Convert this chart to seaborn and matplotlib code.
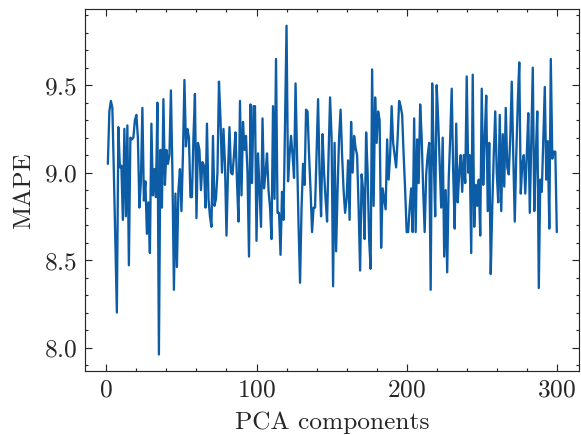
import numpy as np
import pandas as pd
import matplotlib
matplotlib.use("Agg")
import matplotlib.pyplot as plt
from matplotlib.ticker import AutoMinorLocator
import seaborn as sns

# MAPE per number of PCA components (1..300)
mape_1_48 = [9.05, 9.35, 9.41, 9.37, 9.0, 8.6, 8.2, 9.26, 9.03, 9.04, 8.73, 9.25, 8.75, 9.27, 8.47,
             9.2, 9.19, 9.2, 9.3, 9.33, 9.2, 8.8,
             8.95, 9.37, 8.84, 8.95, 8.65, 8.83, 8.54, 9.28, 8.87, 9.02, 8.86, 9.40, 7.96, 9.13,
             8.80, 9.42, 8.93, 9.13, 9.05, 9.1, 9.47, 9.0, 8.33, 8.88, 8.46, 8.9]
mape_49_98 = [9.02, 8.78, 9.1, 9.53, 9.15, 9.25, 9.2, 8.86, 8.86, 9.2, 9.45, 8.74, 9.17, 9.13, 8.9,
              9.06, 9.04, 8.8, 9.28, 8.85, 8.75, 8.69, 9.21, 8.81, 8.85,
              9.0, 9.52, 9.31, 9.0, 9.25, 9.05, 8.64, 9.0, 9.26, 9.0, 8.99, 9.1, 9.23, 8.95, 8.72,
              9.41, 8.87, 9.29, 9.13, 9.21, 9.0, 8.52, 9.39, 8.94, 9.38]
mape_99_149 = [9.38, 8.61, 9.11, 8.9, 8.69, 9.31, 8.91, 9.0, 9.11, 8.9, 8.8, 8.62, 9.38, 8.85, 9.65,
               8.77, 8.77, 8.53, 8.89, 8.73, 9.3, 9.84, 8.95, 9.1, 9.21,
               9.1, 8.97, 9.51, 9.1, 8.7, 8.37, 8.8, 9.05, 8.93, 9.36, 9.35, 9.1, 8.9, 8.66, 8.8,
               8.8, 9.1, 9.42, 9.0, 8.75, 9.22, 9.0, 8.85, 8.72, 9.1, 9.43]
mape_150_200 = [9.2, 8.35, 9.17, 8.55, 8.9, 9.2, 9.36, 9.1, 8.9, 8.77, 8.85, 9.07, 8.73, 9.29, 9.0,
                9.21, 9.14, 9.1, 8.8, 8.44, 8.99, 8.9, 8.62, 9.23, 9.0,
                8.62, 8.45, 9.59, 8.81, 9.43, 9.17, 9.35, 9.3, 8.57, 8.91, 8.85, 8.79, 9.19, 8.96,
                9.1, 9.38, 9.17, 9.1, 9.03, 9.2, 9.41, 9.38, 9.33, 9.1, 8.9, 8.66]
mape_201_250 = [8.66, 8.8, 8.91, 8.66, 9.31, 8.66, 9.19, 8.94, 9.39, 9.2, 8.9, 8.66, 8.99, 9.1, 9.17,
                8.33, 9.51, 9.1, 8.75, 9.5, 9.3, 9.05, 8.8, 9.2, 8.52,
                8.9, 8.43, 8.96, 9.2, 9.48, 9.0, 8.68, 9.28, 8.83, 9.0, 9.1, 8.89, 9.1, 8.94, 9.55,
                9.0, 9.1, 8.54, 9.56, 8.69, 8.93, 8.81, 8.96, 8.64, 9.48]
mape_251_300 = [8.93, 9.2, 9.44, 8.78, 9.17, 8.42, 8.8, 9.1, 9.35, 9.0, 8.83, 9.33, 8.78, 9.22, 8.92,
                9.37, 9.03, 8.99, 9.2, 9.52, 9.1, 8.72, 9.1, 9.4, 9.63, 8.88,
                9.05, 9.1, 8.88, 9.1, 9.34, 8.77, 9.2, 9.6, 8.78, 9.1, 9.35, 8.34, 8.96, 8.89, 9.2,
                9.49, 8.96, 9.18, 8.68, 9.65, 9.08, 9.12, 9.12, 8.66]

mape = mape_1_48 + mape_49_98 + mape_99_149 + mape_150_200 + mape_201_250 + mape_251_300
components = np.arange(1, len(mape) + 1)
df = pd.DataFrame({"PCA components": components, "MAPE": mape})

# science-like style
sns.set_style("ticks")
plt.rcParams.update({
    "font.family": "serif",
    "font.serif": ["cmr10"],
    "mathtext.fontset": "cm",
    "axes.formatter.use_mathtext": True,
    "font.size": 11,
    "axes.linewidth": 0.5,
    "xtick.direction": "in",
    "ytick.direction": "in",
    "xtick.top": True,
    "ytick.right": True,
    "xtick.major.size": 3,
    "xtick.major.width": 0.5,
    "xtick.minor.size": 1.5,
    "xtick.minor.width": 0.5,
    "ytick.major.size": 3,
    "ytick.major.width": 0.5,
    "ytick.minor.size": 1.5,
    "ytick.minor.width": 0.5,
    "xtick.minor.visible": True,
    "ytick.minor.visible": True,
})

fig, ax = plt.subplots(figsize=(3.5, 2.625), dpi=166)
fig.subplots_adjust(left=0.147, right=0.997, top=0.977, bottom=0.147)

sns.lineplot(data=df, x="PCA components", y="MAPE", color="#0C5DA5", linewidth=1.0, ax=ax)
ax.set_xticks([0, 100, 200, 300])
ax.set_yticks([8.0, 8.5, 9.0, 9.5])
ax.xaxis.set_minor_locator(AutoMinorLocator(5))
ax.yaxis.set_minor_locator(AutoMinorLocator(5))
ax.set_xlabel("PCA components")
ax.set_ylabel("MAPE")

fig.savefig("out.png", dpi=166)
